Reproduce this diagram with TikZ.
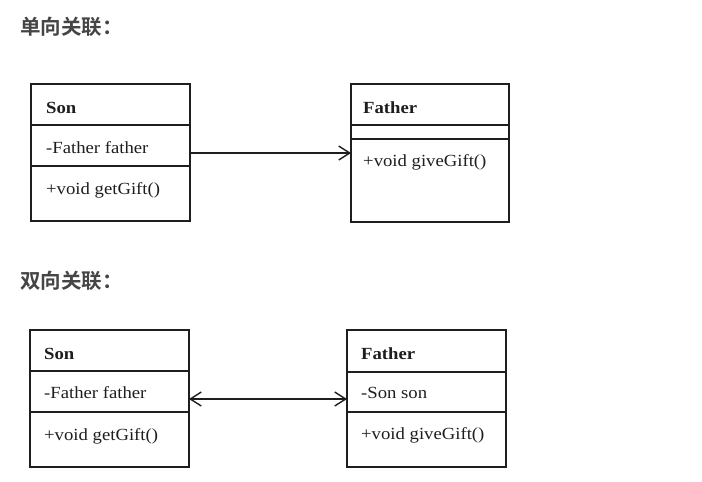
\documentclass[tikz,border=0pt]{standalone}
\usepackage{fontspec}
\newfontfamily\umlfont{Liberation Serif}[FakeStretch=1.1]
\newfontfamily\cjkfont{Noto Sans CJK SC}[BoldFont={Noto Sans CJK SC Bold}]
\usetikzlibrary{arrows.meta}
\definecolor{titlegray}{HTML}{454545}
\definecolor{linegray}{HTML}{1E1E1E}
\tikzset{
  classbox/.style={draw=linegray, line width=1.3pt, rectangle, inner sep=0pt, outer sep=0pt, anchor=north west},
  divider/.style={draw=linegray, line width=1.3pt},
  umltext/.style={anchor=base west, inner sep=0pt, text=linegray, font=\umlfont\fontsize{17}{20}\selectfont},
  umlname/.style={umltext, font=\umlfont\bfseries\fontsize{17}{20}\selectfont},
  sectitle/.style={anchor=west, inner sep=0pt, text=titlegray, font=\cjkfont\bfseries\fontsize{20.5}{24}\selectfont},
  assoc/.style={draw=linegray, line width=1.3pt, -{Straight Barb[length=11pt,width=14pt,line width=1.4pt]}},
  biassoc/.style={draw=linegray, line width=1.3pt, {Straight Barb[length=11pt,width=14pt,line width=1.4pt]}-{Straight Barb[length=11pt,width=14pt,line width=1.4pt]}}
}
\begin{document}
\begin{tikzpicture}[x=1pt, y=-1pt]
\useasboundingbox[fill=white] (0,0) rectangle (702,482);

% ---------- 单向关联 ----------
\node[sectitle] (t1) at (20,27) {单向关联：};

\node[classbox, minimum width=159pt, minimum height=137pt] (son1) at (31,84) {};
\draw[divider] (31,125) -- (190,125);
\draw[divider] (31,166) -- (190,166);
\node[umlname] (son1n) at (46,113) {Son};
\node[umltext] (son1a) at (46,153) {-Father father};
\node[umltext] (son1m) at (46,194) {+void getGift()};

\node[classbox, minimum width=158pt, minimum height=138pt] (fa1) at (351,84) {};
\draw[divider] (351,125) -- (509,125);
\draw[divider] (351,139) -- (509,139);
\node[umlname] (fa1n) at (363,113) {Father};
\node[umltext] (fa1m) at (363,166) {+void giveGift()};

\coordinate (a1s) at (190,153);
\coordinate (a1e) at (351,153);
\draw[assoc] (a1s) -- (a1e);

% ---------- 双向关联 ----------
\node[sectitle] (t2) at (20,281) {双向关联：};

\node[classbox, minimum width=159pt, minimum height=137pt] (son2) at (30,330) {};
\draw[divider] (30,371) -- (189,371);
\draw[divider] (30,412) -- (189,412);
\node[umlname] (son2n) at (44,359) {Son};
\node[umltext] (son2a) at (44,398) {-Father father};
\node[umltext] (son2m) at (44,440) {+void getGift()};

\node[classbox, minimum width=159pt, minimum height=137pt] (fa2) at (347,330) {};
\draw[divider] (347,372) -- (506,372);
\draw[divider] (347,412) -- (506,412);
\node[umlname] (fa2n) at (361,359) {Father};
\node[umltext] (fa2a) at (361,398) {-Son son};
\node[umltext] (fa2m) at (361,439) {+void giveGift()};

\coordinate (a2s) at (189,399);
\coordinate (a2e) at (347,399);
\draw[biassoc] (a2s) -- (a2e);
\end{tikzpicture}
\end{document}
